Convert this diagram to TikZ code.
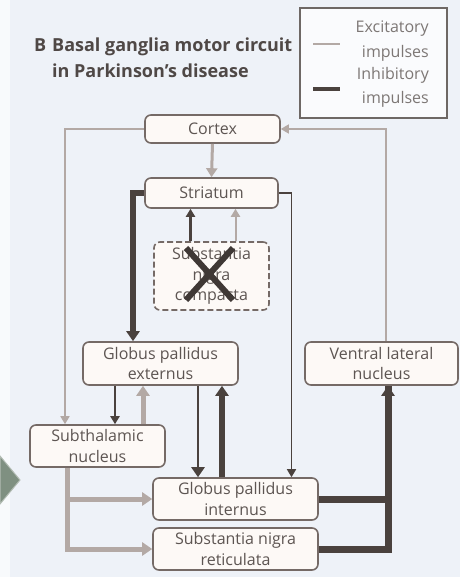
\documentclass[tikz,border=0pt]{standalone}
\usepackage{fontspec}
\setmainfont{Open Sans}
\usetikzlibrary{arrows.meta,calc}
\definecolor{bg}{HTML}{EEF2F8}
\definecolor{exc}{HTML}{B3A9A5}
\definecolor{inh}{HTML}{4A423E}
\definecolor{nodeborder}{HTML}{756A66}
\definecolor{nodefill}{HTML}{FDF9F6}
\definecolor{txt}{HTML}{5D5552}
\definecolor{chev}{HTML}{7F9081}
\tikzset{
  box/.style={draw=nodeborder, line width=1.6pt, fill=nodefill, rounded corners=6pt,
    text=txt, align=center, inner sep=0pt, font=\fontsize{16}{20.5}\selectfont},
  excline/.style={draw=exc, line width=#1},
  inhline/.style={draw=inh, line width=#1},
  sarrow/.style={-{Triangle[width=9pt,length=8pt]}},
  barrow/.style={-{Triangle[width=13pt,length=10pt]}},
}
\begin{document}
\begin{tikzpicture}[x=1pt,y=-1pt]
\useasboundingbox (0,0) rectangle (460,577);
\fill[bg] (0,0) rectangle (460,577);
\fill[white!60!bg] (0,0) rectangle (10,577);
% chevron
\draw[fill=chev, draw=chev!60!white, line width=1pt] (0,456) -- (20,480) -- (0,504) -- cycle;
% title
\tikzset{ttl/.style={anchor=base west, text=txt!85!black, font=\bfseries\fontsize{18}{22}\selectfont, inner sep=0pt}}
\node[ttl] (blabel) at (34,52) {B};
\node[ttl] (title) at (52,52) {Basal ganglia motor circuit};
\node[ttl] (title2) at (52,78) {in Parkinson's disease};
% legend
\node[draw=inh!80!white, line width=1.5pt, fill=white!70!bg, minimum width=147pt, minimum height=110pt, inner sep=0pt] (legend) at (373.5,63) {};
\coordinate (le1) at (313,44);
\coordinate (le2) at (340,44);
\coordinate (li1) at (313,89);
\coordinate (li2) at (340,89);
\draw[excline=2pt] (le1) -- (le2);
\draw[inhline=3.5pt] (li1) -- (li2);
\tikzset{legtxt/.style={anchor=base east, text=txt!80!white, inner sep=0pt, font=\fontsize{16}{18}\selectfont}}
\node[legtxt] (lt1) at (429,33) {Excitatory};
\node[legtxt] (lt2) at (429,58) {impulses};
\node[legtxt] (lt3) at (429,80) {Inhibitory};
\node[legtxt] (lt4) at (429,104) {impulses};
% nodes
\node[box, minimum width=135pt, minimum height=28pt] (cortex) at (212.5,129) {Cortex};
\node[box, minimum width=133pt, minimum height=30pt] (striatum) at (211.5,193) {Striatum};
\node[box, dashed, dash pattern=on 6pt off 3pt, minimum width=115pt, minimum height=68pt] (snc) at (211.5,276) {Substantia\\nigra\\compacta};
\node[box, minimum width=155pt, minimum height=43pt] (gpe) at (160.5,363.5) {Globus pallidus\\externus};
\node[box, minimum width=153pt, minimum height=43pt] (vl) at (381.5,363.5) {Ventral lateral\\nucleus};
\node[box, minimum width=135pt, minimum height=42pt] (stn) at (97.5,446) {Subthalamic\\nucleus};
\node[box, minimum width=165pt, minimum height=42pt] (gpi) at (235.5,499) {Globus pallidus\\internus};
\node[box, minimum width=165pt, minimum height=42pt] (snr) at (235.5,549) {Substantia nigra\\reticulata};
% X over SNc
\coordinate (xa) at (186,248);
\coordinate (xb) at (233,300);
\coordinate (xc) at (233,248);
\coordinate (xd) at (186,300);
\draw[draw=inh!85!black, line width=6pt] (xa) -- (xb) (xc) -- (xd);
% connectors
\draw[excline=3pt, -{Triangle[width=11pt,length=9pt]}] (cortex.south) -- (striatum.north);
\draw[excline=1.6pt, sarrow] (cortex.west) -| ([xshift=-32.5pt]stn.north);
\draw[excline=1.6pt, sarrow] ([xshift=4.5pt]vl.north) |- (cortex.east);
\draw[inhline=6pt, barrow] (striatum.west) -| ([xshift=-27.5pt]gpe.north);
\draw[inhline=1.6pt, sarrow] (striatum.east) -| ([xshift=56pt]gpi.north);
\draw[inhline=2.5pt, sarrow] ([xshift=-21pt]snc.north) -- ([xshift=-21pt]striatum.south);
\draw[excline=2pt, sarrow] ([xshift=24pt]snc.north) -- ([xshift=24pt]striatum.south);
\draw[inhline=2pt, sarrow] ([xshift=-45.5pt]gpe.south) -- ([xshift=17.5pt]stn.north);
\draw[excline=5pt, barrow] ([xshift=45.5pt]stn.north) -- ([xshift=-17.5pt]gpe.south);
\draw[inhline=2.5pt, barrow] ([xshift=37.5pt]gpe.south) -- ([xshift=-37.5pt]gpi.north);
\draw[inhline=6pt, barrow] ([xshift=-13.5pt]gpi.north) -- ([xshift=61.5pt]gpe.south);
\draw[excline=5pt, barrow] ([xshift=-30pt]stn.south) |- (gpi.west);
\draw[excline=5pt, barrow] ([xshift=-30pt]stn.south) |- (snr.west);
\draw[inhline=7pt] (gpi.east) -| ([xshift=6.5pt]vl.south);
\draw[inhline=7pt, barrow] (snr.east) -| ([xshift=6.5pt]vl.south);
\end{tikzpicture}
\end{document}
